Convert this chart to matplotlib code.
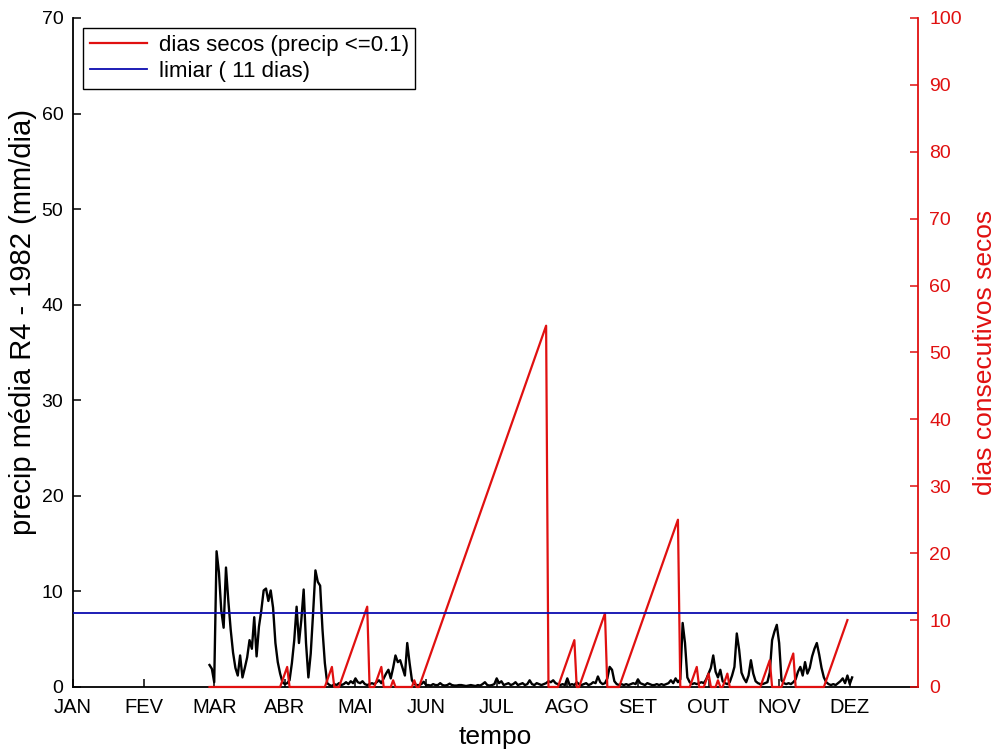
import numpy as np
import matplotlib
matplotlib.use("Agg")
import matplotlib.pyplot as plt

plt.rcParams['font.family'] = ['Liberation Sans', 'DejaVu Sans']

# months of 30 days, tick on the first day of each month
month_labels = ['JAN', 'FEV', 'MAR', 'ABR', 'MAI', 'JUN',
                'JUL', 'AGO', 'SET', 'OUT', 'NOV', 'DEZ']
month_days = [1, 31, 61, 91, 121, 151, 181, 211, 241, 271, 301, 331]

# daily mean precipitation (mm/dia), first value on day 59
precip_start_day = 59
precip = [
    2.3, 1.9, 0.5, 14.2, 12.0, 8.0, 6.2, 12.5, 9.0, 6.0,      # 59-68
    3.6, 2.0, 1.2, 3.3, 1.0, 2.0, 3.1, 4.9, 4.0, 7.3,         # 69-78
    3.2, 6.3, 8.0, 10.1, 10.3, 9.0, 10.1, 8.3, 4.6, 2.6,      # 79-88
    1.4, 0.5, 0.3, 0.4, 0.7, 2.5, 4.9, 8.4, 4.6, 7.0,         # 89-98
    10.2, 4.6, 1.0, 3.5, 7.7, 12.2, 11.0, 10.6, 6.0, 2.5,     # 99-108
    0.4, 0.2, 0.1, 0.3, 0.2, 0.4, 0.2, 0.3, 0.5, 0.3,         # 109-118
    0.6, 0.4, 0.9, 0.5, 0.4, 0.6, 0.3, 0.2, 0.3, 0.4,         # 119-128
    0.3, 0.5, 0.7, 0.4, 0.9, 1.4, 1.8, 0.9, 2.0, 3.3,         # 129-138
    2.6, 2.8, 2.0, 1.2, 4.6, 2.5, 0.7, 0.3, 0.2, 0.2,         # 139-148
    0.3, 0.55, 0.2, 0.2, 0.15, 0.3, 0.2, 0.2, 0.4, 0.2,       # 149-158
    0.15, 0.2, 0.35, 0.2, 0.15, 0.15, 0.2, 0.2, 0.15, 0.1,    # 159-168
    0.15, 0.2, 0.15, 0.1, 0.2, 0.15, 0.3, 0.5, 0.2, 0.15,     # 169-178
    0.2, 0.3, 0.9, 0.4, 0.6, 0.2, 0.3, 0.4, 0.2, 0.3,         # 179-188
    0.5, 0.2, 0.3, 0.4, 0.2, 0.3, 0.7, 0.3, 0.2, 0.4,         # 189-198
    0.3, 0.2, 0.3, 0.4, 0.6, 0.5, 0.7, 0.4, 0.3, 0.2,         # 199-208
    0.3, 0.2, 0.9, 0.2, 0.3, 0.2, 0.5, 0.3, 0.2, 0.3,         # 209-218
    0.4, 0.2, 0.3, 0.5, 0.4, 1.1, 0.5, 0.3, 0.4, 0.9,         # 219-228
    2.1, 1.8, 0.6, 0.3, 0.2, 0.3, 0.2, 0.3, 0.2, 0.3,         # 229-238
    0.4, 0.3, 0.8, 0.4, 0.3, 0.2, 0.4, 0.3, 0.2, 0.2,         # 239-248
    0.3, 0.2, 0.3, 0.2, 0.3, 0.4, 0.7, 0.4, 0.9, 0.5,         # 249-258
    0.8, 6.7, 4.6, 1.0, 0.5, 0.3, 0.4, 0.3, 0.4, 0.5,         # 259-268
    0.4, 0.8, 1.4, 2.0, 3.3, 1.6, 1.0, 1.8, 0.6, 0.4,         # 269-278
    0.3, 0.5, 1.2, 2.1, 5.6, 3.9, 1.5, 0.9, 0.5, 1.2,         # 279-288
    2.8, 1.4, 0.6, 0.4, 0.3, 0.3, 0.4, 0.5, 1.5, 4.9,         # 289-298
    5.8, 6.5, 4.6, 0.7, 0.4, 0.3, 0.4, 0.3, 0.5, 0.8,         # 299-308
    1.6, 2.1, 1.2, 2.6, 1.4, 2.0, 3.2, 4.0, 4.6, 3.4,         # 309-318
    2.0, 1.0, 0.5, 0.3, 0.2, 0.3, 0.2, 0.4, 0.6, 0.9,         # 319-328
    0.4, 1.2, 0.3, 1.0,                                       # 329-332
]

# consecutive dry days: day of each spell's peak and its length
dry_first_day = 59
dry_last_day = 330
dry_peak_day = [92, 111, 126, 132, 137, 146, 202, 214, 227, 258,
                266, 271, 275, 279, 297, 307, 330]
dry_peak_len = [3, 3, 12, 3, 1, 1, 54, 7, 11, 25,
                3, 2, 1, 2, 4, 5, 10]

threshold_days = 11

RED = '#e01010'
BLUE = '#0c0cb0'

precip_days = np.arange(precip_start_day, precip_start_day + len(precip))

# vertices of the dry-day counter line
dry_x = [dry_first_day]
dry_y = [0]
for pk, ln in zip(dry_peak_day, dry_peak_len):
    dry_x += [pk - ln, pk]
    dry_y += [0, ln]
    if pk + 1 <= dry_last_day:
        dry_x.append(pk + 1)
        dry_y.append(0)

fig = plt.figure(figsize=(9.97, 7.49), dpi=100)
ax = fig.add_axes([0.0732, 0.0828, 0.8476, 0.8932])
ax2 = ax.twinx()

ax.plot(precip_days, precip, color='black', lw=1.7)
ax.set_xlim(1, 360)
ax.set_ylim(0, 70)
ax.set_yticks(range(0, 71, 10))
ax.set_xticks(month_days)
ax.set_xticklabels(month_labels)
ax.tick_params(direction='in', length=6, width=1.1, labelsize=14)
ax.tick_params(axis='y', pad=7)
ax.tick_params(axis='x', pad=8, labelsize=14.5)
ax.set_ylabel('precip média R4 - 1982 (mm/dia)', fontsize=21)
ax.yaxis.set_label_coords(-0.043, 0.545)
ax.set_xlabel('tempo', fontsize=19, labelpad=6)

l_red, = ax2.plot(dry_x, dry_y, color=RED, lw=1.6, clip_on=False,
                  label='dias secos (precip <=0.1)')
l_blue = ax2.axhline(threshold_days, color=BLUE, lw=1.3,
                     label='limiar ( 11 dias)')
ax2.set_ylim(0, 100)
ax2.set_yticks(range(0, 101, 10))
ax2.tick_params(direction='in', length=6, width=1.1, labelsize=14,
                colors=RED, pad=8)
ax2.set_ylabel('dias consecutivos secos', fontsize=19, color=RED, labelpad=8)

for a in (ax, ax2):
    a.spines['top'].set_visible(False)
    a.spines['left'].set_linewidth(1.3)
    a.spines['bottom'].set_linewidth(1.3)
    a.spines['right'].set_linewidth(1.3)
ax2.spines['right'].set_color(RED)
ax.spines['right'].set_visible(False)
ax2.spines['left'].set_visible(False)
ax2.spines['bottom'].set_visible(False)

leg = ax2.legend(handles=[l_red, l_blue], loc='upper left', fontsize=16,
                 frameon=True, fancybox=False, framealpha=1,
                 edgecolor='black', borderaxespad=0.45, handlelength=2.6,
                 handletextpad=0.5, labelspacing=0.25, borderpad=0.3)
leg.get_frame().set_linewidth(1.0)

fig.savefig('out.png', dpi=100)
